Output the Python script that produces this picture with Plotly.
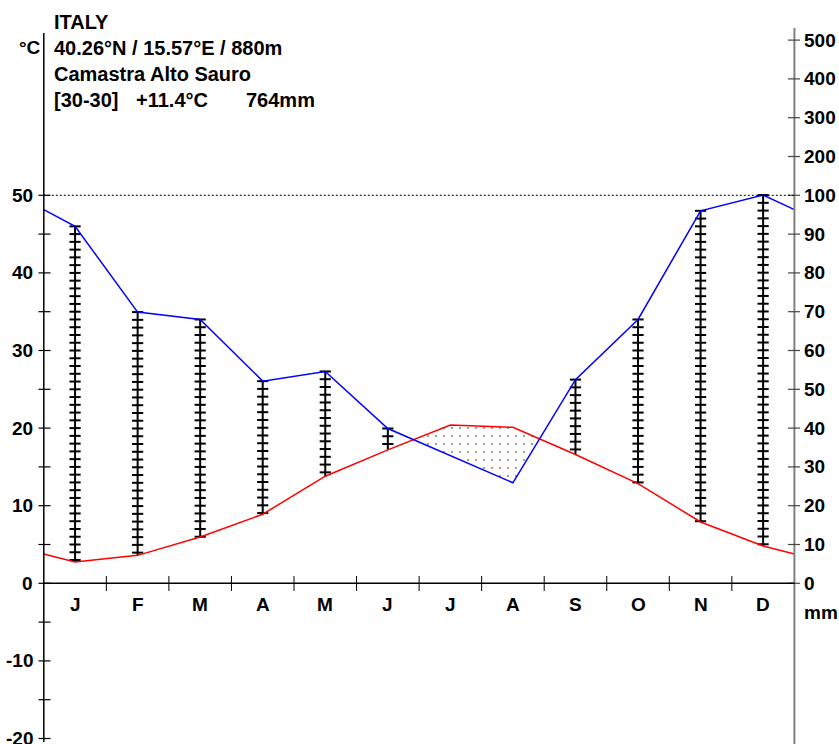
import plotly.graph_objects as go

# Monthly climate normals, Camastra Alto Sauro
months = ["J", "F", "M", "A", "M", "J", "J", "A", "S", "O", "N", "D"]
temp_c = [2.75, 3.6, 5.97, 8.9, 13.8, 17.2, 20.4, 20.1, 16.6, 12.85, 7.9, 4.8]
precip_mm = [92.0, 69.9, 68.0, 52.1, 54.6, 39.9, 33.0, 25.9, 52.5, 68.0, 96.0, 100.6]

temp_ticks = [-20, -15, -10, -5, 0, 5, 10, 15, 20, 25, 30, 35, 40, 45, 50]
temp_labels = [-20, -10, 0, 10, 20, 30, 40, 50]
precip_ticks = [0, 10, 20, 30, 40, 50, 60, 70, 80, 90, 100, 200, 300, 400, 500]

title_lines = ["ITALY", "40.26°N / 15.57°E / 880m", "Camastra Alto Sauro"]
period_text = "[30-30]"
mean_temp_text = "+11.4°C"
total_precip_text = "764mm"

# Pixel geometry of the diagram frame
W, H = 839, 744
X0, MW = 43.8, 62.55        # left frame edge, pixels per month
Y0, S = 583.3, 7.76         # 0 °C baseline, pixels per °C

def px2x(px):
    return (px - X0) / MW

def py2y(py):
    return (Y0 - py) / S

def p_scale(mm):
    # 10 °C = 20 mm up to 100 mm, compressed 1:10 above
    return mm / 2.0 if mm <= 100 else 50.0 + (mm - 100.0) / 20.0

FAMILY = "Liberation Sans, Arial, sans-serif"
FONT = dict(family=FAMILY, size=19, color="black", weight="bold")
TITLE_FONT = dict(family=FAMILY, size=20, color="black", weight="bold")

# Lines with wrap-around values at the frame edges
xs = [0.0] + [i + 0.5 for i in range(12)] + [12.0]
t_edge = (temp_c[0] + temp_c[-1]) / 2
p_edge = (precip_mm[0] + precip_mm[-1]) / 2
t_line = [t_edge] + temp_c + [t_edge]
p_line = [p_scale(p_edge)] + [p_scale(v) for v in precip_mm] + [p_scale(p_edge)]


def arid_polygons(x, t, p):
    polys, upper, lower = [], [], []
    for i in range(len(x)):
        d = p[i] - t[i]
        if i > 0:
            d0 = p[i - 1] - t[i - 1]
            if (d0 < 0) != (d < 0):
                f = d0 / (d0 - d)
                xc = x[i - 1] + f * (x[i] - x[i - 1])
                yc = t[i - 1] + f * (t[i] - t[i - 1])
                upper.append((xc, yc))
                lower.append((xc, yc))
                if d >= 0:
                    polys.append(upper + lower[::-1])
                    upper, lower = [], []
        if d < 0:
            upper.append((x[i], t[i]))
            lower.append((x[i], p[i]))
    if upper:
        polys.append(upper + lower[::-1])
    return polys


fig = go.Figure()

# Dry season: dotted area between temperature and precipitation
for poly in arid_polygons(xs, t_line, p_line):
    fig.add_trace(go.Scatter(
        x=[q[0] for q in poly] + [poly[0][0]],
        y=[q[1] for q in poly] + [poly[0][1]],
        mode="lines", line=dict(width=0), fill="toself", fillcolor="rgba(0,0,0,0)",
        fillpattern=dict(shape=".", fgcolor="black", bgcolor="white", size=8, solidity=0.05),
        hoverinfo="skip"))

# Humid season: vertical hatched bars at month centres
bar_x, bar_y, tick_x, tick_y = [], [], [], []
for i in range(12):
    ps = p_scale(precip_mm[i])
    t = temp_c[i]
    if ps > t:
        bar_x += [i + 0.5, i + 0.5, None]
        bar_y += [t, ps, None]
        k = 0
        while ps - k >= t - 0.05:
            tick_x.append(i + 0.5)
            tick_y.append(ps - k)
            k += 1
fig.add_trace(go.Scatter(x=bar_x, y=bar_y, mode="lines",
                         line=dict(color="black", width=2), hoverinfo="skip"))
fig.add_trace(go.Scatter(x=tick_x, y=tick_y, mode="markers",
                         marker=dict(symbol="line-ew", size=8, line=dict(color="black", width=2)),
                         hoverinfo="skip"))

# Temperature and precipitation curves
fig.add_trace(go.Scatter(x=xs, y=t_line, mode="lines", line=dict(color="#ff0000", width=1.5)))
fig.add_trace(go.Scatter(x=xs, y=p_line, mode="lines", line=dict(color="#0000ff", width=1.5)))

shapes = []
# Left temperature axis
shapes.append(dict(type="line", x0=0, x1=0, y0=py2y(33), y1=py2y(742),
                   line=dict(color="black", width=1.5)))
for v in temp_ticks:
    shapes.append(dict(type="line", x0=px2x(38.5), x1=px2x(50.5), y0=v, y1=v,
                       line=dict(color="black", width=1.2)))
# Right precipitation axis
shapes.append(dict(type="line", x0=12, x1=12, y0=py2y(28), y1=py2y(744),
                   line=dict(color="#808080", width=2)))
for v in precip_ticks:
    yv = p_scale(v)
    shapes.append(dict(type="line", x0=px2x(788), x1=px2x(800), y0=yv, y1=yv,
                       line=dict(color="#444444", width=1.2)))
# Zero line, month boundaries and the 100 mm reference
shapes.append(dict(type="line", x0=0, x1=12, y0=0, y1=0, line=dict(color="black", width=1.5)))
for m in range(1, 12):
    shapes.append(dict(type="line", x0=m, x1=m, y0=py2y(576), y1=py2y(591),
                       line=dict(color="black", width=1)))
shapes.append(dict(type="line", x0=0, x1=12, y0=p_scale(100), y1=p_scale(100),
                   line=dict(color="black", width=1, dash="2px,2px")))

ann = []
for v in temp_labels:
    ann.append(dict(x=px2x(35), y=v, text=str(v), xanchor="right", yanchor="middle",
                    showarrow=False, font=FONT))
for v in precip_ticks:
    ann.append(dict(x=px2x(802), y=p_scale(v), text=str(v), xanchor="left", yanchor="middle",
                    showarrow=False, font=FONT))
for i, m in enumerate(months):
    ann.append(dict(x=i + 0.5, y=py2y(604), text=m, xanchor="center", yanchor="middle",
                    showarrow=False, font=FONT))
ann.append(dict(x=px2x(802), y=py2y(612), text="mm", xanchor="left", yanchor="middle",
                showarrow=False, font=FONT))
ann.append(dict(x=px2x(17), y=py2y(47), text="°C", xanchor="left", yanchor="middle",
                showarrow=False, font=FONT))
for j, line in enumerate(title_lines):
    ann.append(dict(x=px2x(52), y=py2y(21.5 + 26.3 * j), text=line, xanchor="left",
                    yanchor="middle", showarrow=False, font=TITLE_FONT))
for txt, px in [(period_text, 52), (mean_temp_text, 134), (total_precip_text, 244)]:
    ann.append(dict(x=px2x(px), y=py2y(100.4), text=txt, xanchor="left", yanchor="middle",
                    showarrow=False, font=TITLE_FONT))

fig.update_layout(
    width=W, height=H, margin=dict(l=0, r=0, t=0, b=0),
    paper_bgcolor="white", plot_bgcolor="white", showlegend=False,
    xaxis=dict(range=[px2x(0), px2x(W)], visible=False, fixedrange=True),
    yaxis=dict(range=[py2y(H), py2y(0)], visible=False, fixedrange=True),
    shapes=shapes, annotations=ann,
)

fig.write_html("out.html")
